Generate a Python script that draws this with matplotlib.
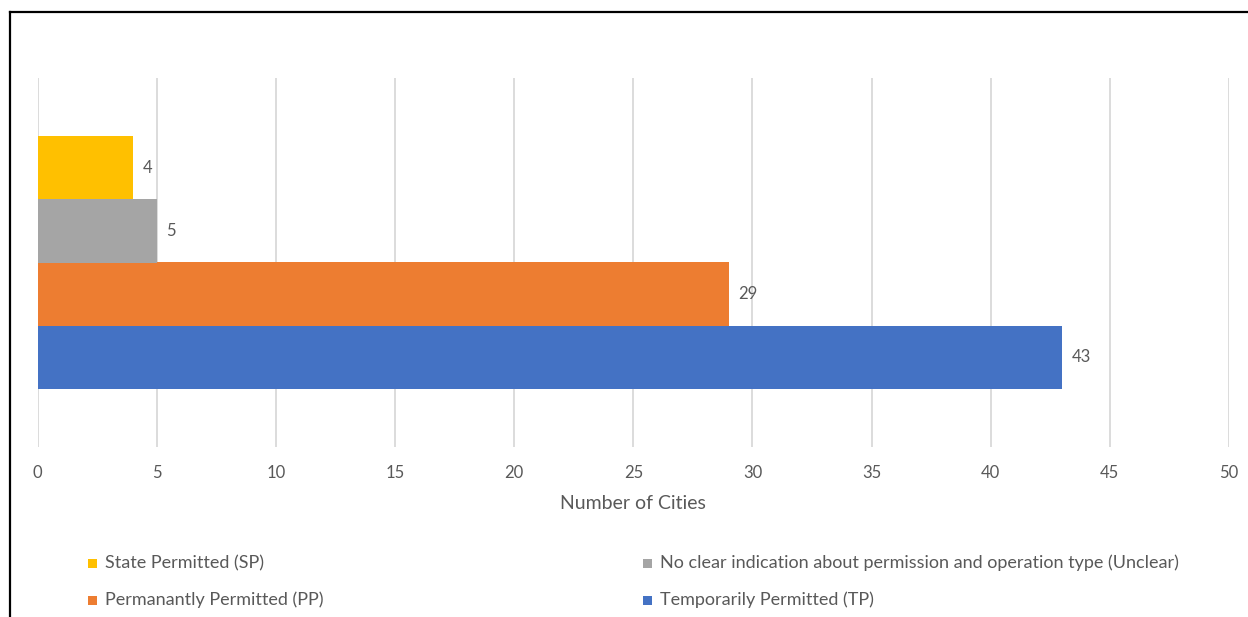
import matplotlib
matplotlib.use("Agg")
import matplotlib.pyplot as plt
from matplotlib.patches import Rectangle
from matplotlib.lines import Line2D

# ---- data ----
series = [
    "Temporarily Permitted (TP)",
    "Permanantly Permitted (PP)",
    "No clear indication about permission and operation type (Unclear)",
    "State Permitted (SP)",
]
values = [43, 29, 5, 4]
colors = ["#4472C4", "#ED7D31", "#A5A5A5", "#FFC000"]
xticks = [0, 5, 10, 15, 20, 25, 30, 35, 40, 45, 50]
xlabel = "Number of Cities"
legend_order = [
    "State Permitted (SP)",
    "No clear indication about permission and operation type (Unclear)",
    "Permanantly Permitted (PP)",
    "Temporarily Permitted (TP)",
]

plt.rcParams["font.family"] = ["Lato", "DejaVu Sans"]
TXT = "#595959"

W, H = 1248, 617
fig = plt.figure(figsize=(W / 100, H / 100), dpi=100)


def fx(px):
    return px / W


def fy(py):
    return 1 - py / H


ax = fig.add_axes([fx(37.7), fy(447), fx(1229) - fx(37.7), fy(78) - fy(447)])

ypos = list(range(len(values)))
bar_containers = []
for y, v, c in zip(ypos, values, colors):
    b = ax.barh([y], [v], height=1.0, color=c, zorder=2)
    bar_containers.append(b)
    ax.bar_label(b, labels=[str(v)], padding=7, color=TXT, fontsize=12)

ax.set_xlim(0, 50)
ax.set_ylim(-1.417, 4.417)
ax.set_xticks(xticks)
ax.set_xticklabels([str(t) for t in xticks])
ax.set_yticks([])
ax.grid(axis="x", color="#D9D9D9", linewidth=1.3, zorder=0)
ax.set_axisbelow(True)
for s in ax.spines.values():
    s.set_visible(False)
ax.tick_params(axis="x", length=0, pad=13, labelsize=12, labelcolor=TXT)
ax.set_xlabel(xlabel, fontsize=14, color=TXT, labelpad=10)

# ---- legend (2 columns x 2 rows) ----
col_x = [88, 643]
row_y = [563, 600]
label_color = dict(zip(series, colors))
for i, lab in enumerate(legend_order):
    cx = col_x[i % 2]
    ry = row_y[i // 2]
    fig.patches.append(Rectangle((fx(cx), fy(ry + 4.5)), fx(9), 9 / H,
                                 transform=fig.transFigure,
                                 facecolor=label_color[lab], edgecolor="none"))
    fig.text(fx(cx + 17), fy(ry), lab, fontsize=13, color=TXT,
             ha="left", va="center")

# ---- frame border (top and left) ----
fig.lines.append(Line2D([fx(10), fx(1248)], [fy(12), fy(12)],
                        transform=fig.transFigure, color="black", linewidth=1.6))
fig.lines.append(Line2D([fx(10), fx(10)], [fy(12), fy(617)],
                        transform=fig.transFigure, color="black", linewidth=1.6))

fig.savefig("out.png", dpi=100)
